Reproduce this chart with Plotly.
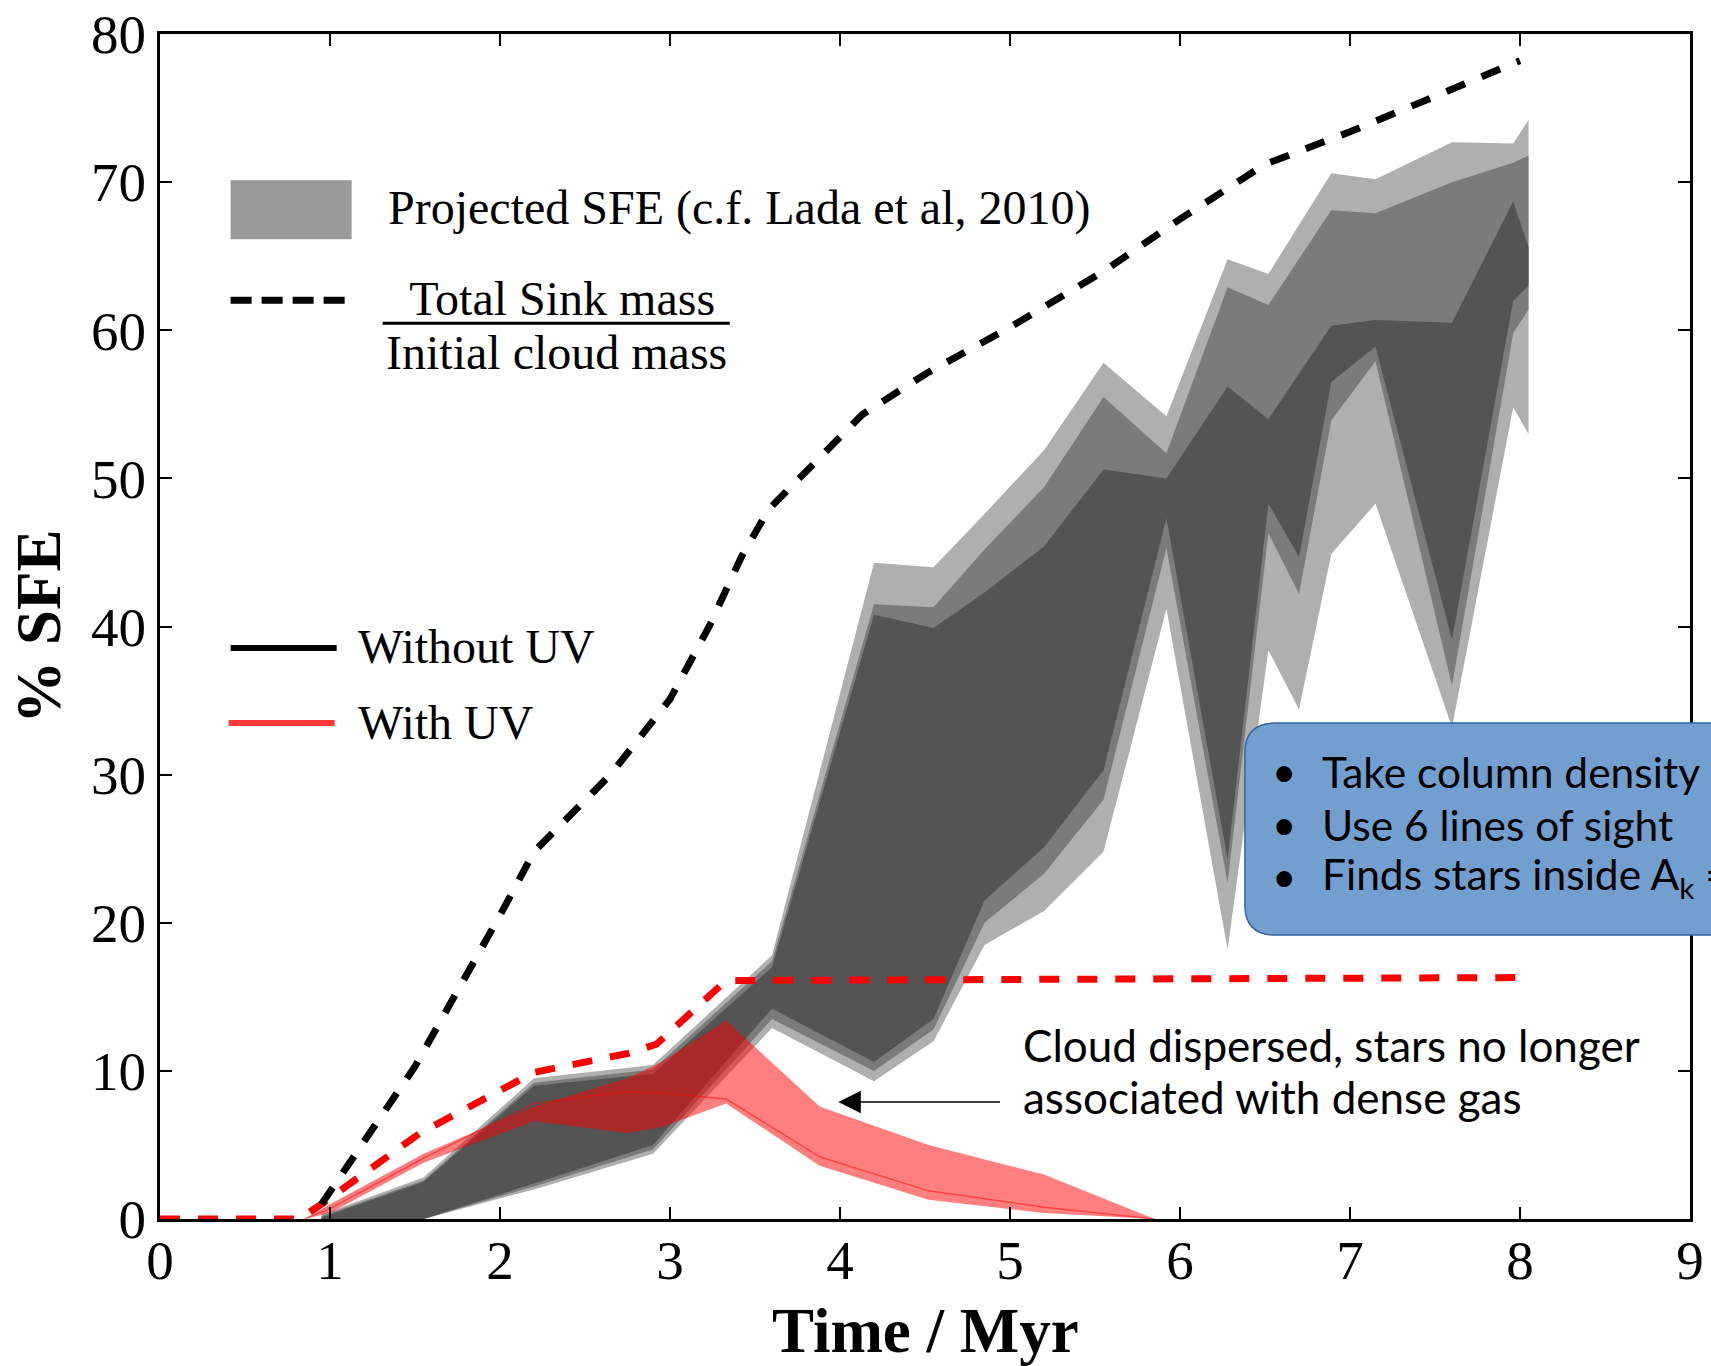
import plotly.graph_objects as go

# ---------------- data ----------------
# Projected SFE bands (Without UV), three grey levels
time_band = [0.95, 1.55, 2.2, 2.9, 3.6, 4.2, 4.55, 4.85, 5.2, 5.55, 5.92, 6.28, 6.52, 6.7, 6.89, 7.15, 7.6, 7.96, 8.05]
light_upper = [0.3, 2.8, 9.5, 10.4, 17.8, 44.3, 44.0, 47.6, 51.9, 57.8, 54.2, 64.8, 63.8, 67.1, 70.6, 70.2, 72.7, 72.6, 74.2]
light_lower = [0, 0, 2.0, 4.4, 12.9, 9.3, 12.0, 18.5, 20.8, 24.8, 41.2, 18.2, 38.4, 34.4, 44.9, 48.3, 33.2, 54.8, 53.0]
mid_upper = [0.2, 2.6, 9.2, 10.1, 17.4, 41.5, 41.3, 45.2, 49.4, 55.5, 51.7, 62.9, 61.7, 64.8, 68.1, 67.9, 70.0, 71.3, 71.8]
mid_lower = [0, 0, 2.2, 4.7, 13.5, 10.0, 12.8, 20.0, 23.3, 28.3, 45.3, 22.7, 46.3, 42.2, 53.9, 57.9, 36.0, 59.8, 61.4]
dark_upper = [0.1, 2.5, 9.0, 9.8, 17.0, 40.8, 39.9, 42.3, 45.4, 50.6, 50.0, 56.2, 54.0, 57.1, 60.3, 60.7, 60.5, 68.7, 65.6]
dark_lower = [0, 0, 2.4, 5.0, 14.2, 10.6, 13.5, 21.5, 25.1, 30.3, 47.3, 24.3, 48.3, 44.7, 56.5, 58.9, 39.1, 62.0, 63.0]

# Projected SFE band (With UV)
time_uv = [0.85, 1.0, 1.55, 2.2, 2.75, 2.95, 3.33, 3.88, 4.52, 5.2, 5.85]
uv_upper = [0, 1.0, 4.4, 7.6, 9.5, 10.6, 13.4, 7.6, 5.0, 3.0, 0]
uv_lower = [0, 0.4, 3.8, 6.6, 5.8, 6.2, 7.8, 3.6, 1.3, 0.4, 0]
uv_mid = [0, 0.7, 4.1, 7.8, 8.6, 8.5, 8.1, 4.2, 1.9, 0.8, 0]

# Total sink mass / initial cloud mass
time_sink = [0.95, 1.5, 2.0, 2.2, 2.65, 3.0, 3.23, 3.42, 3.58, 4.13, 4.51, 5.0, 5.54, 6.0, 6.5, 7.0, 7.46, 8.0]
sink_noUV = [1.0, 10.3, 20.5, 24.8, 30.0, 35.1, 40.0, 44.7, 47.9, 54.3, 57.1, 60.2, 63.9, 67.5, 71.2, 73.4, 75.6, 78.2]
time_sink_uv = [0, 0.82, 0.95, 1.53, 2.2, 2.76, 2.92, 3.33, 8.0]
sink_UV = [0, 0, 1.0, 5.8, 9.9, 11.2, 11.8, 16.1, 16.3]

x_ticks = [0, 1, 2, 3, 4, 5, 6, 7, 8, 9]
y_ticks = [0, 10, 20, 30, 40, 50, 60, 70, 80]

box_lines = ["Take column density", "Use 6 lines of sight", "Finds stars inside A<sub>k</sub> ="]
note_lines = ["Cloud dispersed, stars no longer", "associated with dense gas"]

LIGHT = "#afafaf"
MID = "#7b7b7b"
DARK = "#545454"

fig = go.Figure()


def band(x, lo, up, color):
    xs = list(x) + list(reversed(x))
    ys = list(up) + list(reversed(lo))
    fig.add_trace(go.Scatter(x=xs, y=ys, mode="lines", fill="toself", fillcolor=color,
                             line=dict(width=0, color=color), hoverinfo="skip", showlegend=False))


band(time_band, light_lower, light_upper, LIGHT)
band(time_band, mid_lower, mid_upper, MID)
band(time_band, dark_lower, dark_upper, DARK)
band(time_uv, uv_lower, uv_upper, "rgba(255,0,0,0.5)")
fig.add_trace(go.Scatter(x=time_uv, y=uv_mid, mode="lines", line=dict(color="rgba(255,0,0,0.45)", width=1.5),
                         hoverinfo="skip", showlegend=False))
fig.add_trace(go.Scatter(x=time_sink_uv, y=sink_UV, mode="lines",
                         line=dict(color="#ff0000", width=7, dash="20px,18px"), showlegend=False))
fig.add_trace(go.Scatter(x=time_sink, y=sink_noUV, mode="lines",
                         line=dict(color="#000000", width=7, dash="20px,18px"), showlegend=False))

axis_common = dict(showline=True, linewidth=3, linecolor="black", mirror="ticks", ticks="inside",
                   ticklen=12, tickwidth=2, tickcolor="black", showgrid=False, zeroline=False,
                   automargin=False,
                   tickfont=dict(family="Liberation Serif", size=55, color="black"))

fig.update_xaxes(range=[0, 9], tickvals=x_ticks, ticktext=[str(v) for v in x_ticks],
                 ticklabelstandoff=-9, **axis_common)
fig.update_yaxes(range=[0, 80], tickvals=y_ticks, ticktext=[str(v) for v in y_ticks], **axis_common)

# ---------------- legend-like items (drawn by hand) ----------------
def px(X):
    return (X - 160.4) / 1529.6


def py(Y):
    return (1219 - Y) / 1185.2


shapes = []
shapes.append(dict(type="rect", xref="paper", yref="paper", x0=px(231), x1=px(352), y0=py(239), y1=py(180),
                   fillcolor="#999999", line=dict(width=0)))
shapes.append(dict(type="line", xref="paper", yref="paper", x0=px(231), x1=px(345), y0=py(300), y1=py(300),
                   line=dict(color="black", width=7, dash="21px,10px")))
shapes.append(dict(type="line", xref="paper", yref="paper", x0=px(383), x1=px(730), y0=py(323), y1=py(323),
                   line=dict(color="black", width=3)))
shapes.append(dict(type="line", xref="paper", yref="paper", x0=px(231), x1=px(337), y0=py(648), y1=py(648),
                   line=dict(color="black", width=6)))
shapes.append(dict(type="line", xref="paper", yref="paper", x0=px(229), x1=px(335), y0=py(723), y1=py(723),
                   line=dict(color="#ff3838", width=6)))

# rounded blue box (extends beyond the right edge)
bx0, bx1, by0, by1 = px(1245), px(1770), py(935), py(723)
rx, ry = 30 / 1529.6, 30 / 1185.2
path = (f"M {bx0+rx},{by0} L {bx1},{by0} L {bx1},{by1} L {bx0+rx},{by1} "
        f"Q {bx0},{by1} {bx0},{by1-ry} L {bx0},{by0+ry} Q {bx0},{by0} {bx0+rx},{by0} Z")
shapes.append(dict(type="path", xref="paper", yref="paper", path=path, fillcolor="#729fcf",
                   line=dict(color="#3465a4", width=1.5), layer="above"))

serif = "Liberation Serif"
sans = "Lato"
annotations = [
    dict(text="Projected SFE (c.f. Lada et al, 2010)", x=px(386), y=py(208), xanchor="left", yanchor="middle"),
    dict(text=" Total Sink mass", x=px(557), y=py(298), xanchor="center", yanchor="middle"),
    dict(text="Initial cloud mass", x=px(557), y=py(352), xanchor="center", yanchor="middle"),
    dict(text="Without UV", x=px(356), y=py(646), xanchor="left", yanchor="middle"),
    dict(text="With UV", x=px(356), y=py(722), xanchor="left", yanchor="middle"),
]
for a in annotations:
    a.update(xref="paper", yref="paper", showarrow=False, font=dict(family=serif, size=48, color="black"))

annotations += [
    dict(text="<b>Time / Myr</b>", xref="paper", yref="paper", x=0.5, y=py(1331), xanchor="center",
         yanchor="middle", showarrow=False, font=dict(family=serif, size=63, color="black")),
    dict(text="<b>% SFE</b>", xref="paper", yref="paper", x=px(40), y=py(627), xanchor="center",
         yanchor="middle", textangle=-90, showarrow=False, font=dict(family=serif, size=63, color="black")),
    dict(text="", x=3.99, y=7.9, ax=4.95, ay=7.9, xref="x", yref="y", axref="x", ayref="y",
         showarrow=True, arrowhead=2, arrowsize=3, arrowwidth=1.5, arrowcolor="black"),
]

for line, Y in zip(note_lines, [1045, 1097]):
    annotations.append(dict(text=line, xref="paper", yref="paper", x=px(1021), y=py(Y), xanchor="left",
                            yanchor="middle", showarrow=False, font=dict(family=sans, size=44, color="black")))

for line, Y in zip(box_lines, [771, 824, 876]):
    annotations.append(dict(text="•", xref="paper", yref="paper", x=px(1284), y=py(Y), xanchor="center",
                            yanchor="middle", showarrow=False, font=dict(family=sans, size=42, color="black")))
    annotations.append(dict(text=line, xref="paper", yref="paper", x=px(1320), y=py(Y), xanchor="left",
                            yanchor="middle", showarrow=False, font=dict(family=sans, size=42.5, color="black")))

fig.update_layout(width=1711, height=1366, margin=dict(l=160, r=21, t=34, b=147),
                  plot_bgcolor="white", paper_bgcolor="white", showlegend=False,
                  shapes=shapes, annotations=annotations)

fig.write_html("out.html")
